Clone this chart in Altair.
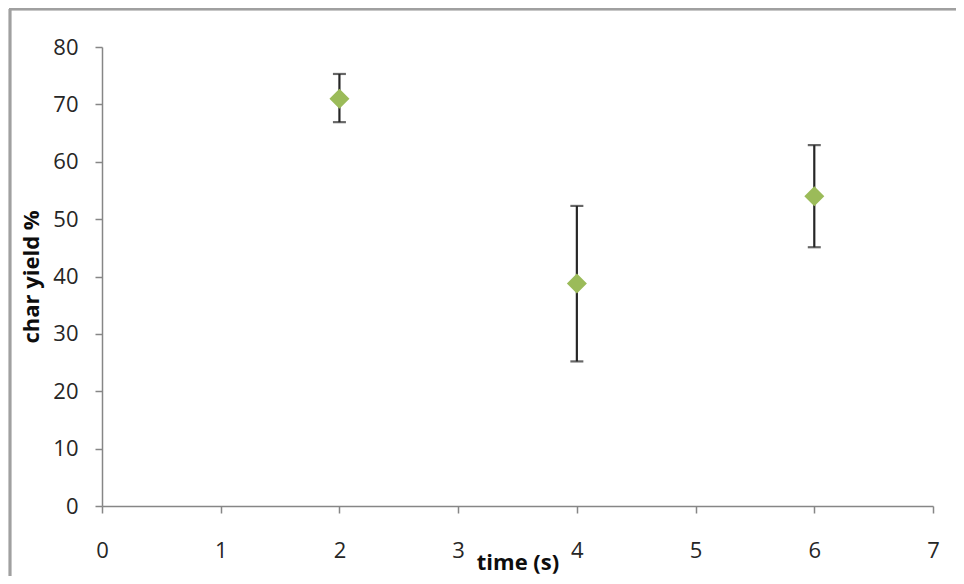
import altair as alt
import pandas as pd

# data
time_s = [2, 4, 6]
char_yield = [71.0, 38.8, 54.0]
err_upper = [75.3, 52.3, 62.9]
err_lower = [66.9, 25.2, 45.1]

df = pd.DataFrame({"time": time_s, "yield": char_yield, "hi": err_upper, "lo": err_lower})

FONT = "Open Sans"
AXIS_GRAY = "#868686"
TEXT = "#262626"

x_scale = alt.Scale(domain=[0, 7], nice=False, zero=False)
y_scale = alt.Scale(domain=[0, 80], nice=False)

x_axis = alt.Axis(
    values=[0, 1, 2, 3, 4, 5, 6, 7], format="d", grid=False, labelFlush=False,
    tickSize=7, labelPadding=27, labelBaseline="top", labelFontSize=22,
    labelFont=FONT, labelColor=TEXT, domainColor=AXIS_GRAY, tickColor=AXIS_GRAY,
    domainWidth=1.5, tickWidth=1.5, title="time (s)", titleFont=FONT,
    titleFontSize=22, titleFontWeight="bold", titleColor="#0d0d0d",
    titleY=63, titleBaseline="alphabetic",
)
y_axis = alt.Axis(
    values=[0, 10, 20, 30, 40, 50, 60, 70, 80], format="d", grid=False, labelFlush=False,
    tickSize=7, labelPadding=17, labelFontSize=22, labelFont=FONT,
    labelColor=TEXT, domainColor=AXIS_GRAY, tickColor=AXIS_GRAY,
    domainWidth=1.5, tickWidth=1.5, title="char yield %", titleFont=FONT,
    titleFontSize=22, titleFontWeight="bold", titleColor="#0d0d0d",
    titleX=-71, titleBaseline="middle",
)

base = alt.Chart(df)

frame_left = base.mark_rule(color="#a0a0a0", strokeWidth=2.5).encode(
    x=alt.value(-92), y=alt.value(-38), y2=alt.value(540)
)
frame_top = base.mark_rule(color="#a0a0a0", strokeWidth=2.5).encode(
    x=alt.value(-93), x2=alt.value(900), y=alt.value(-38)
)

bars = base.mark_rule(color="#262626", strokeWidth=2.2).encode(
    x=alt.X("time:Q", scale=x_scale, axis=x_axis),
    y=alt.Y("lo:Q", scale=y_scale, axis=y_axis),
    y2="hi:Q",
)
cap_hi = base.mark_tick(color="#262626", orient="horizontal", size=13, thickness=2.2).encode(
    x=alt.X("time:Q", scale=x_scale), y=alt.Y("hi:Q", scale=y_scale)
)
cap_lo = base.mark_tick(color="#262626", orient="horizontal", size=13, thickness=2.2).encode(
    x=alt.X("time:Q", scale=x_scale), y=alt.Y("lo:Q", scale=y_scale)
)
points = base.mark_point(shape="diamond", filled=True, size=400, color="#9bbb59", opacity=1).encode(
    x=alt.X("time:Q", scale=x_scale), y=alt.Y("yield:Q", scale=y_scale)
)

chart = alt.layer(frame_left, frame_top, bars, cap_hi, cap_lo, points).properties(
    width=831, height=459,
    padding={"left": 94, "top": 39, "right": 23, "bottom": 70},
    autosize=alt.AutoSizeParams(type="none"),
    background="white",
).configure_view(stroke=None)

chart.save("out.html", embed_options={"renderer": "svg", "actions": False})
